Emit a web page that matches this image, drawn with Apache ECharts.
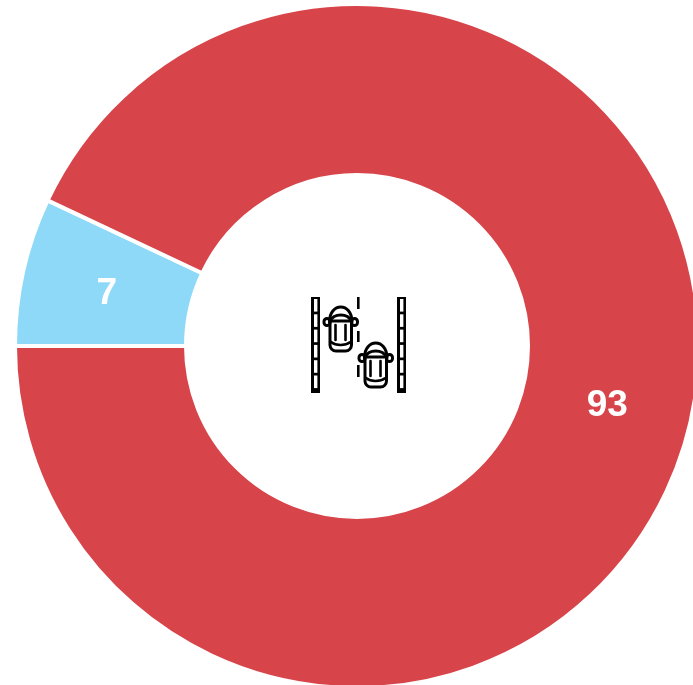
<!DOCTYPE html>
<html><head><meta charset="utf-8">
<style>html,body{margin:0;padding:0;background:#fff}#c{width:693px;height:685px}</style>
<script src="https://cdn.jsdelivr.net/npm/echarts@6/dist/echarts.min.js"></script>
</head><body><div id="c"></div>
<script>
const categories = ['Share A', 'Share B'];
const values = [7, 93];
const colors = ['#8ed8f8', '#d7444a'];
const labelOffsets = [[3, 4], [-3, 3]];

const chart = echarts.init(document.getElementById('c'), null, {renderer: 'canvas'});
const ink = '#000';
function road(x) {
  const kids = [{type: 'rect', shape: {x: x, y: 297, width: 9, height: 96}, style: {fill: ink}}];
  for (let i = 0; i < 6; i++) {
    kids.push({type: 'rect', shape: {x: x + 3, y: 299 + i * 15.3, width: 3.4, height: 12.6}, style: {fill: '#fff'}});
  }
  return kids;
}
function car(dx, dy) {
  const line = {fill: 'none', stroke: ink, lineWidth: 3, lineJoin: 'round', lineCap: 'round'};
  const thin = {fill: 'none', stroke: ink, lineWidth: 2.6, lineCap: 'round'};
  return {
    type: 'group', x: dx, y: dy,
    children: [
      {type: 'bezierCurve', shape: {x1: 329.5, y1: 322, cpx1: 329.5, cpy1: 302, cpx2: 352, cpy2: 302, x2: 352, y2: 322}, style: line},
      {type: 'bezierCurve', shape: {x1: 330, y1: 321, cpx1: 334, cpy1: 313, cpx2: 347.5, cpy2: 313, x2: 351.5, y2: 321}, style: line},
      {type: 'rect', shape: {x: 324, y: 318.5, width: 6, height: 7, r: 3.5}, style: line},
      {type: 'rect', shape: {x: 351.5, y: 318.5, width: 6, height: 7, r: 3.5}, style: line},
      {type: 'rect', shape: {x: 330, y: 321, width: 21.5, height: 30, r: [0, 0, 6, 6]}, style: line},
      {type: 'line', shape: {x1: 335.5, y1: 325, x2: 335.5, y2: 340}, style: thin},
      {type: 'line', shape: {x1: 345.5, y1: 325, x2: 345.5, y2: 340}, style: thin},
      {type: 'bezierCurve', shape: {x1: 331, y1: 342, cpx1: 336, cpy1: 346, cpx2: 345, cpy2: 346, x2: 350.5, y2: 342}, style: thin}
    ]
  };
}
const dashes = [[297, 309], [331, 342], [365, 377]].map(d => ({
  type: 'rect', shape: {x: 357, y: d[0], width: 2.6, height: d[1] - d[0]}, style: {fill: ink}
}));
chart.setOption({
  animation: false,
  backgroundColor: '#fff',
  series: [{
    type: 'pie',
    center: [357, 346],
    radius: [171, 342],
    startAngle: 180,
    clockwise: true,
    avoidLabelOverlap: false,
    itemStyle: {borderColor: '#fff', borderWidth: 4},
    label: {
      show: true, position: 'inside', formatter: '{c}', color: '#fff',
      fontFamily: '"Liberation Sans", Arial, sans-serif', fontWeight: 'bold', fontSize: 37
    },
    labelLine: {show: false},
    emphasis: {disabled: true},
    data: categories.map((n, i) => ({
      name: n, value: values[i],
      itemStyle: {color: colors[i]},
      label: {offset: labelOffsets[i]}
    }))
  }],
  graphic: [{
    type: 'group', silent: true,
    children: [...road(311), ...road(397), ...dashes, car(0, 0), car(35, 36)]
  }]
});
</script></body></html>
